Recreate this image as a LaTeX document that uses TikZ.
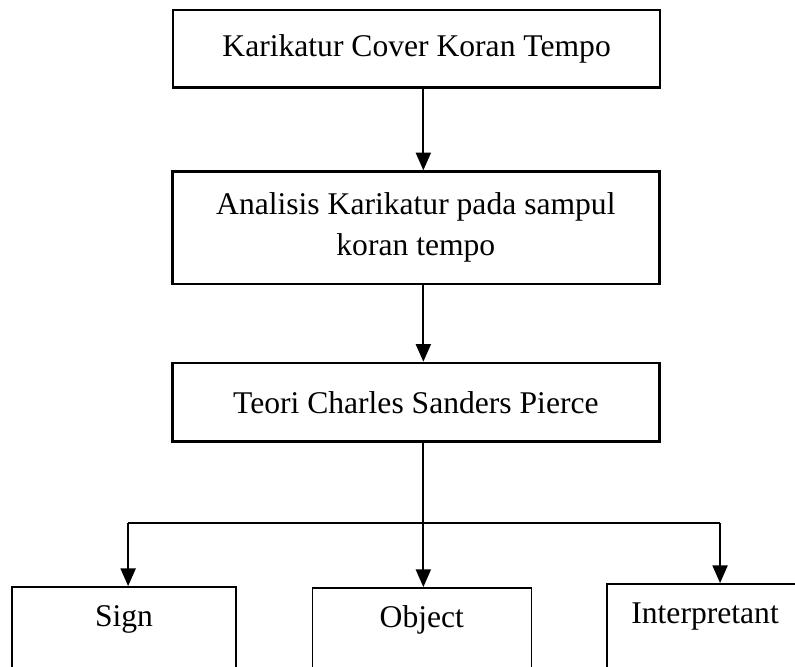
\documentclass[tikz,border=0pt]{standalone}
\usepackage{fontspec}
\setmainfont{Liberation Serif}
\usetikzlibrary{arrows.meta}

\begin{document}
\begin{tikzpicture}[
  font=\fontsize{12}{15.5}\selectfont,
  kotak/.style={draw=black, line width=1pt, align=center,
                minimum width=6.50cm, inner sep=2pt},
  kotakbawah/.style={draw=black, line width=0.55pt, anchor=north,
                     inner xsep=2pt, inner ysep=0.23cm,
                     text height=0.30cm, text depth=1.50cm},
  panah/.style={draw=black, line width=0.7pt,
                -{Triangle[length=6.7pt, width=5.7pt]}},
  garis/.style={draw=black, line width=0.7pt}
]

%--------------------------------------------------------------
% Bingkai: kotak bawah terpotong di tepi gambar
%--------------------------------------------------------------
\useasboundingbox (0,0) rectangle (10.61,8.89);
\clip (0,0) rectangle (10.61,8.89);

%--------------------------------------------------------------
% Kotak alur atas
%--------------------------------------------------------------
\node[kotak, minimum height=1.03cm] (karikatur) at (5.56,8.24)
  {Karikatur Cover Koran Tempo};
\node[kotak, minimum height=1.50cm] (analisis) at (5.55,5.85)
  {Analisis Karikatur pada sampul\\ koran tempo};
\node[kotak, minimum height=1.05cm] (teori) at (5.55,3.52)
  {Teori Charles Sanders Pierce};

%--------------------------------------------------------------
% Tiga unsur semiotika, di bawah
%--------------------------------------------------------------
\node[kotakbawah, minimum width=2.99cm] (sign) at (1.655,1.068) {Sign};
\node[kotakbawah, minimum width=2.92cm] (object) at (5.63,1.055) {Object};
\node[kotakbawah, minimum width=2.62cm] (interpretant) at (9.41,1.108)
  {Interpretant};

%--------------------------------------------------------------
% Panah penghubung
%--------------------------------------------------------------
\coordinate (sumbu) at (5.65,0);
\coordinate (kiri)  at (1.71,1.91);
\coordinate (kanan) at (9.61,1.91);

\draw[panah] (karikatur.south -| sumbu) -- (analisis.north -| sumbu);
\draw[panah] (analisis.south -| sumbu) -- (teori.north -| sumbu);
\draw[panah] (teori.south -| sumbu) -- (object.north -| sumbu);
\draw[garis] (kiri) -- (kanan);
\draw[panah] (kiri) -- (sign.north -| kiri);
\draw[panah] (kanan) -- (interpretant.north -| kanan);

\end{tikzpicture}
\end{document}
